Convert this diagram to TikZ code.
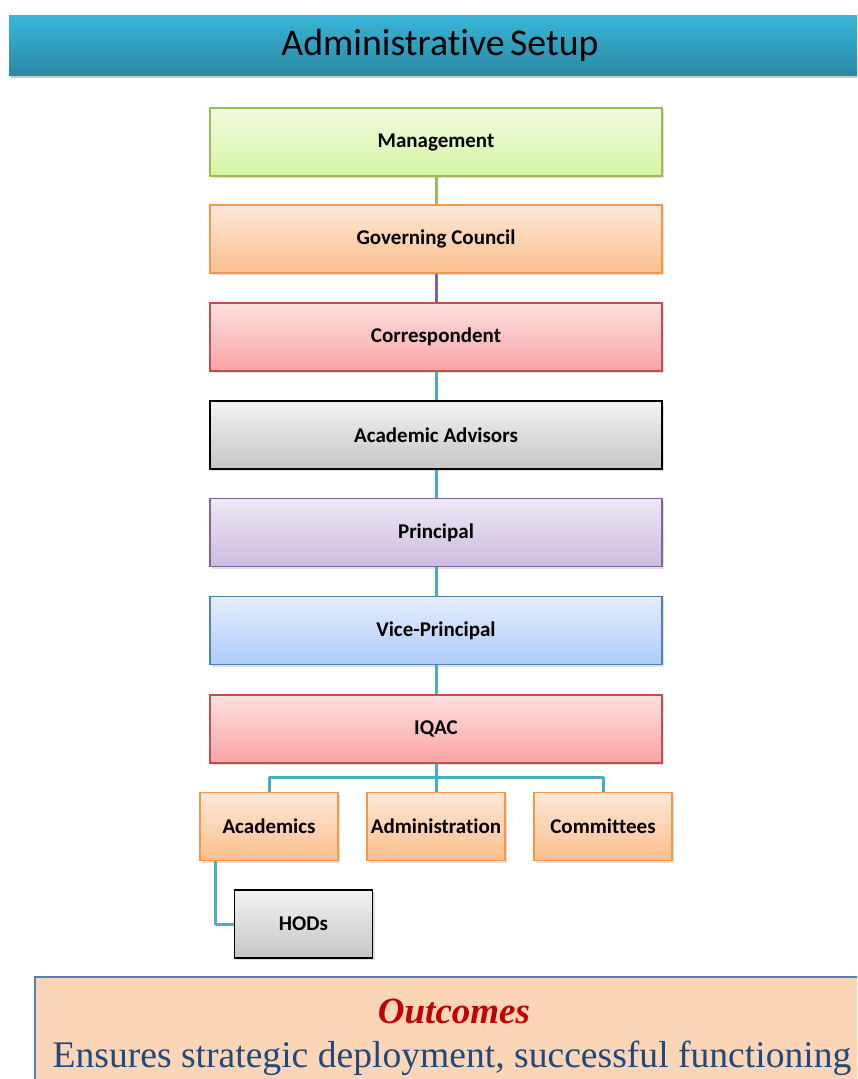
\documentclass[tikz,border=0pt]{standalone}
\usepackage{fontspec}
\setmainfont[Ligatures=NoCommon]{Carlito}
\newfontfamily\timesfont{Liberation Serif}
\usetikzlibrary{shadows}
\definecolor{titletop}{HTML}{39B5D8}
\definecolor{titlebot}{HTML}{2A8AA6}
\definecolor{grnB}{HTML}{9BBB59}\definecolor{grnT}{HTML}{F1FBE0}\definecolor{grnL}{HTML}{D5F5A1}
\definecolor{orgB}{HTML}{F79646}\definecolor{orgT}{HTML}{FDE8D8}\definecolor{orgL}{HTML}{FBBF8C}
\definecolor{redB}{HTML}{C0504D}\definecolor{redT}{HTML}{FDE0E0}\definecolor{redL}{HTML}{FAA3A3}
\definecolor{gryB}{HTML}{000000}\definecolor{gryT}{HTML}{F2F2F2}\definecolor{gryL}{HTML}{C6C6C6}
\definecolor{purB}{HTML}{8064A2}\definecolor{purT}{HTML}{EEE8F4}\definecolor{purL}{HTML}{CDBBE0}
\definecolor{bluB}{HTML}{4F81BD}\definecolor{bluT}{HTML}{E4EEFC}\definecolor{bluL}{HTML}{ADCBF8}
\definecolor{teal}{HTML}{4BACC6}
\definecolor{outfill}{HTML}{FBD5B5}
\definecolor{outred}{HTML}{C00000}
\definecolor{outblue}{HTML}{1F497D}
\tikzset{
  orgbox/.style={rectangle, line width=1.6pt, minimum height=68pt,
    font=\fontsize{21}{24}\selectfont\bfseries,
    drop shadow={opacity=0.25, shadow xshift=2pt, shadow yshift=-2pt}},
  wide/.style={orgbox, minimum width=452pt},
  narrow/.style={orgbox, minimum width=138pt},
  green/.style={draw=grnB, top color=grnT, bottom color=grnL},
  orange/.style={draw=orgB, top color=orgT, bottom color=orgL},
  red/.style={draw=redB, top color=redT, bottom color=redL},
  grey/.style={draw=gryB, top color=gryT, bottom color=gryL},
  purple/.style={draw=purB, top color=purT, bottom color=purL},
  blue/.style={draw=bluB, top color=bluT, bottom color=bluL},
  link/.style={line width=3pt, teal}
}
\begin{document}
\begin{tikzpicture}[x=1pt,y=-1pt]
\useasboundingbox (0,0) rectangle (857,1079);
\begin{scope}
\clip (0,0) rectangle (857,1079);
% title banner
\fill[black!20] (11,18) rectangle (870,78);
\shade[top color=titletop, bottom color=titlebot] (9,15) rectangle (870,75);
\node (title) at (440,45) {\fontsize{37.8}{40}\selectfont Administrative\hspace{-3pt} Setup};

% connector anchors
\coordinate (bus) at (436,777);
\coordinate (hk) at (215,861);

% chain of offices
\node[wide, green]  (mgmt) at (436,142) {Management};
\node[wide, orange] (gc)   at (436,239) {Governing Council};
\node[wide, red]    (corr) at (436,337) {Correspondent};
\node[wide, grey]   (aa)   at (436,435) {Academic Advisors};
\node[wide, purple] (prin) at (436,532.5) {Principal};
\node[wide, blue]   (vp)   at (436,630.5) {Vice-Principal};
\node[wide, red]    (iqac) at (436,729) {IQAC};
\node[narrow, orange] (acad)  at (269,826.5) {Academics};
\node[narrow, orange] (admin) at (436,826.5) {Administration};
\node[narrow, orange] (comm)  at (603,826.5) {Committees};
\node[narrow, grey]   (hods)  at (303.5,924) {HODs};

\draw[line width=3pt, grnB] (mgmt.south) -- (gc.north);
\draw[line width=3pt, purB] (gc.south) -- (corr.north);
\draw[link] (corr.south) -- (aa.north);
\draw[link] (aa.south) -- (prin.north);
\draw[link] (prin.south) -- (vp.north);
\draw[link] (vp.south) -- (iqac.north);
\draw[link] (iqac.south) -- (admin.north);
\draw[link, line join=round] (acad.north) |- (bus) -| (comm.north);
\draw[link, line join=round] (hk) |- (hods.west);

% outcomes panel
\draw[fill=outfill, draw=bluB, line width=2.5pt] (35,977) rectangle (880,1100);
\node[text=outred] (otitle) at (454,1011) {\timesfont\fontsize{37}{40}\selectfont\bfseries\itshape Outcomes};
\node[text=outblue, anchor=base] (otext) at (452,1067) {\timesfont\fontsize{37.6}{40}\selectfont Ensures strategic deployment, successful functioning};
\end{scope}
\end{tikzpicture}
\end{document}
